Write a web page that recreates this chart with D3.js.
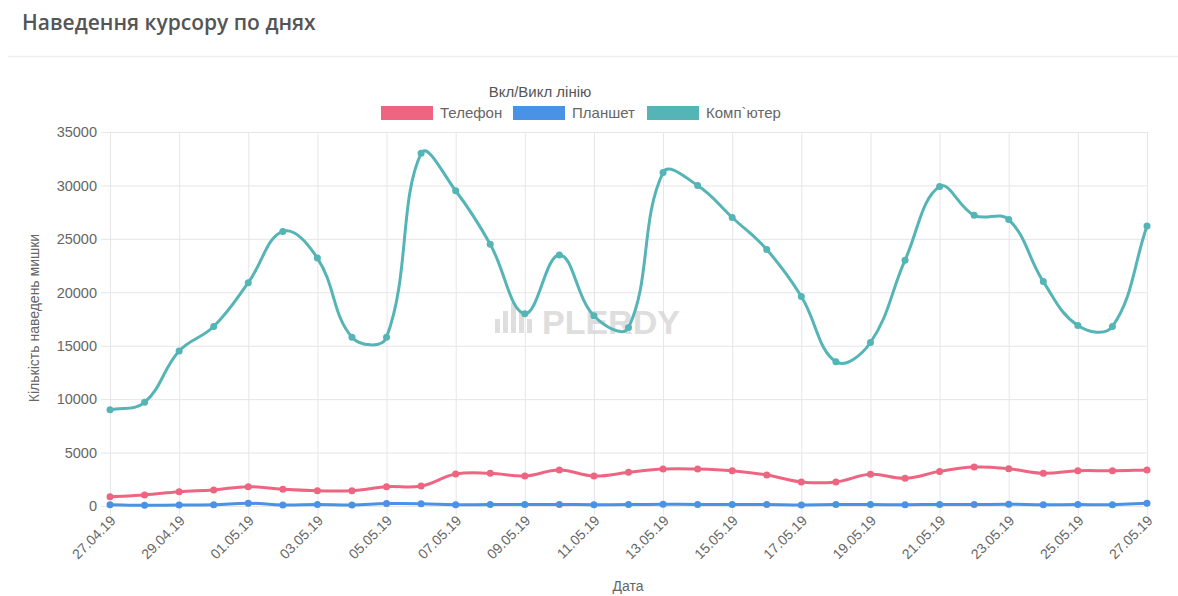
<!DOCTYPE html>
<html>
<head>
<meta charset="utf-8">
<script src="https://cdn.jsdelivr.net/npm/d3@7"></script>
<style>
  html, body { margin: 0; padding: 0; background: #fff; }
  svg { display: block; font-family: "Liberation Sans", Arial, Helvetica, sans-serif; }
</style>
</head>
<body>
<svg id="chart" width="1178" height="596"></svg>
<script>
// Daily cursor hover counts, 27.04.19 – 27.05.19
const dates = [
  "27.04.19","28.04.19","29.04.19","30.04.19","01.05.19","02.05.19","03.05.19",
  "04.05.19","05.05.19","06.05.19","07.05.19","08.05.19","09.05.19","10.05.19",
  "11.05.19","12.05.19","13.05.19","14.05.19","15.05.19","16.05.19","17.05.19",
  "18.05.19","19.05.19","20.05.19","21.05.19","22.05.19","23.05.19","24.05.19",
  "25.05.19","26.05.19","27.05.19"
];
const phone = [
  870, 1030, 1340, 1500, 1810, 1560, 1430, 1430, 1810, 1870, 2990,
  3060, 2810, 3370, 2810, 3150, 3460, 3460, 3300, 2900, 2250,
  2250, 2960, 2590, 3240, 3650, 3490, 3060, 3300, 3300, 3370
];
const tablet = [
  120, 60, 100, 110, 260, 90, 150, 100, 230, 220, 120,
  140, 130, 140, 120, 130, 160, 150, 150, 140, 100,
  130, 130, 120, 140, 140, 160, 120, 130, 120, 260
];
const computer = [
  9000, 9700, 14500, 16800, 20900, 25700, 23200, 15800, 15800, 33000, 29500,
  24500, 18000, 23500, 17800, 16700, 31200, 30000, 27000, 24000, 19600,
  13500, 15300, 23000, 29900, 27200, 26800, 21000, 16900, 16800, 26200
];
const yTicks = [0, 5000, 10000, 15000, 20000, 25000, 30000, 35000];
const seriesNames = ["Телефон", "Планшет", "Комп`ютер"];
const seriesColors = ["#ee6582", "#4a92e6", "#55b4b6"];
const seriesValues = [phone, tablet, computer];

const svg = d3.select("#chart");
const area = { left: 110, right: 1147, top: 132, bottom: 506 };

const x = d3.scalePoint().domain(dates).range([area.left, area.right]);
const y = d3.scaleLinear().domain([0, 35000]).range([area.bottom, area.top]);

// Chart.js-style spline (tension 0.4, distance weighted control points)
function SplineCurve(context) { this._context = context; }
SplineCurve.prototype = {
  areaStart() {}, areaEnd() {},
  lineStart() { this._pts = []; },
  point(px, py) { this._pts.push([+px, +py]); },
  lineEnd() {
    const p = this._pts, n = p.length, t = 0.4, ctx = this._context;
    if (!n) return;
    const cpPrev = [], cpNext = [];
    const clampY = v => Math.max(area.top, Math.min(area.bottom, v));
    for (let i = 0; i < n; i++) {
      const prev = p[Math.max(0, i - 1)], cur = p[i], next = p[Math.min(n - 1, i + 1)];
      const d01 = Math.hypot(cur[0] - prev[0], cur[1] - prev[1]);
      const d12 = Math.hypot(next[0] - cur[0], next[1] - cur[1]);
      let s01 = d01 / (d01 + d12), s12 = d12 / (d01 + d12);
      if (!isFinite(s01)) s01 = 0;
      if (!isFinite(s12)) s12 = 0;
      const fa = t * s01, fb = t * s12;
      cpPrev[i] = [cur[0] - fa * (next[0] - prev[0]), clampY(cur[1] - fa * (next[1] - prev[1]))];
      cpNext[i] = [cur[0] + fb * (next[0] - prev[0]), clampY(cur[1] + fb * (next[1] - prev[1]))];
    }
    ctx.moveTo(p[0][0], p[0][1]);
    for (let i = 1; i < n; i++) {
      ctx.bezierCurveTo(cpNext[i - 1][0], cpNext[i - 1][1], cpPrev[i][0], cpPrev[i][1], p[i][0], p[i][1]);
    }
  }
};
const splineCurve = ctx => new SplineCurve(ctx);

// Title and separator
svg.append("text")
  .attr("x", 22).attr("y", 30)
  .attr("font-family", "'Open Sans', 'Liberation Sans', sans-serif")
  .attr("font-size", 21).attr("font-weight", 600)
  .attr("fill", "#555")
  .text("Наведення курсору по днях");
svg.append("line")
  .attr("x1", 8).attr("x2", 1178).attr("y1", 56.5).attr("y2", 56.5)
  .attr("stroke", "#eeeeee").attr("stroke-width", 1.5);

// Grid lines
const labelDates = dates.filter((d, i) => i % 2 === 0);
svg.append("g")
  .selectAll("line")
  .data(yTicks)
  .join("line")
  .attr("x1", area.left - 9).attr("x2", area.right)
  .attr("y1", d => y(d) + 0.5).attr("y2", d => y(d) + 0.5)
  .attr("stroke", "#e6e6e6");
svg.append("g")
  .selectAll("line")
  .data(labelDates)
  .join("line")
  .attr("x1", d => x(d) + 0.5).attr("x2", d => x(d) + 0.5)
  .attr("y1", area.top).attr("y2", area.bottom + 9)
  .attr("stroke", "#e6e6e6");

// Y axis tick labels
svg.append("g")
  .selectAll("text")
  .data(yTicks)
  .join("text")
  .attr("x", 97).attr("y", d => y(d))
  .attr("dy", "0.36em")
  .attr("text-anchor", "end")
  .attr("font-size", 14.5).attr("fill", "#666")
  .text(d => d);

// X axis tick labels (rotated)
svg.append("g")
  .selectAll("text")
  .data(labelDates)
  .join("text")
  .attr("transform", d => `translate(${x(d) + 3},${area.bottom + 12}) rotate(-45)`)
  .attr("text-anchor", "end")
  .attr("dy", "0.36em")
  .attr("font-size", 14).attr("fill", "#666")
  .text(d => d);

// Axis titles
svg.append("text")
  .attr("transform", `translate(39,318) rotate(-90)`)
  .attr("text-anchor", "middle")
  .attr("font-size", 14).attr("fill", "#666")
  .text("Кількість наведень мишки");
svg.append("text")
  .attr("x", 628).attr("y", 591)
  .attr("text-anchor", "middle")
  .attr("font-size", 14).attr("fill", "#666")
  .text("Дата");

// Watermark
const wm = svg.append("g").attr("opacity", 0.8);
const barsH = [14, 22, 30, 22, 14];
wm.selectAll("rect")
  .data(barsH)
  .join("rect")
  .attr("x", (d, i) => 495 + i * 8)
  .attr("y", d => 333 - d)
  .attr("width", 5)
  .attr("height", d => d)
  .attr("fill", "#d6d6d6");
wm.append("text")
  .attr("x", 542).attr("y", 334)
  .attr("font-size", 34).attr("font-weight", 700)
  .attr("fill", "#d6d6d6")
  .text("PLERDY");

// Legend
svg.append("text")
  .attr("x", 540).attr("y", 97)
  .attr("text-anchor", "middle")
  .attr("font-size", 15).attr("fill", "#555")
  .text("Вкл/Викл лінію");
const legendX = [381, 513, 647];
const legend = svg.append("g")
  .selectAll("g")
  .data(seriesNames)
  .join("g")
  .attr("transform", (d, i) => `translate(${legendX[i]},106)`);
legend.append("rect")
  .attr("width", 52).attr("height", 14)
  .attr("fill", (d, i) => seriesColors[i]);
legend.append("text")
  .attr("x", 59).attr("y", 7).attr("dy", "0.36em")
  .attr("font-size", 15).attr("fill", "#666")
  .text(d => d);

// Lines and points
const line = d3.line()
  .x((d, i) => x(dates[i]))
  .y(d => y(d))
  .curve(splineCurve);

const series = svg.append("g")
  .selectAll("g")
  .data(seriesValues)
  .join("g");
series.append("path")
  .attr("d", d => line(d))
  .attr("fill", "none")
  .attr("stroke", (d, i) => seriesColors[i])
  .attr("stroke-width", 3);
series.each(function (vals, si) {
  d3.select(this).selectAll("circle")
    .data(vals)
    .join("circle")
    .attr("cx", (d, i) => x(dates[i]))
    .attr("cy", d => y(d))
    .attr("r", 3.5)
    .attr("fill", seriesColors[si]);
});
</script>
</body>
</html>
